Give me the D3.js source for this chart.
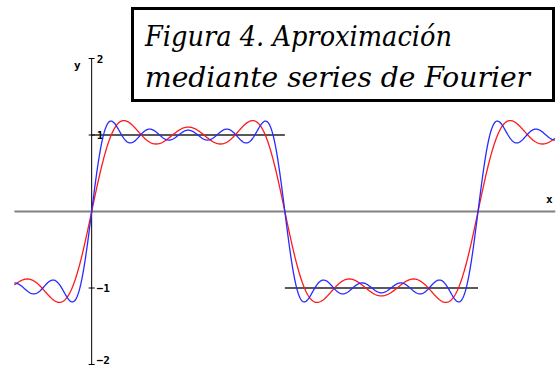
<!DOCTYPE html>
<html>
<head>
<meta charset="utf-8">
<script src="https://cdn.jsdelivr.net/npm/d3@7"></script>
<style>
  body { margin: 0; background: #fff; }
  svg { display: block; }
  .tick-label { font-family: "DejaVu Sans Mono", monospace; font-weight: bold; font-size: 11px; }
  .title { font-family: "DejaVu Serif", "Liberation Serif", serif; font-style: italic; font-size: 28px; }
</style>
</head>
<body>
<svg id="chart" width="556" height="368"></svg>
<script>
var PI = Math.PI;

// Fourier terms of the square wave (odd harmonics, amplitude 4/(n*pi))
var redHarmonics = [1, 3, 5];
var redAmplitudes = [1.2732, 0.4244, 0.2546];
var blueHarmonics = [1, 3, 5, 7, 9];
var blueAmplitudes = [1.2732, 0.4244, 0.2546, 0.1819, 0.1415];

// the square wave being approximated
var stepStart = [0, PI];
var stepEnd = [PI, 2 * PI];
var stepLevel = [1, -1];

var yTicks = [2, 1, -1, -2];
var yTickLabels = ["2", "1", "\u22121", "\u22122"];
var xDomain = [-0.4 * PI, 2.4 * PI];
var titleLines = ["Figura 4. Aproximación", "mediante series de Fourier"];
var titleWidths = [307, 385];

var svg = d3.select("#chart");

var x = d3.scaleLinear().domain(xDomain).range([14.4, 555.3]);
var y = d3.scaleLinear().domain([-2, 2]).range([364.5, 58.5]);

// x axis (grey)
svg.append("line")
    .attr("x1", x(xDomain[0])).attr("x2", x(xDomain[1]))
    .attr("y1", y(0)).attr("y2", y(0))
    .attr("stroke", "#808080")
    .attr("stroke-width", 2);

// y axis
svg.append("line")
    .attr("x1", x(0)).attr("x2", x(0))
    .attr("y1", y(2)).attr("y2", y(-2))
    .attr("stroke", "#000")
    .attr("stroke-width", 1);

svg.selectAll(".ytick")
    .data(yTicks)
    .enter().append("line")
    .attr("class", "ytick")
    .attr("x1", x(0) - 3).attr("x2", x(0) + 3)
    .attr("y1", function (d) { return y(d); })
    .attr("y2", function (d) { return y(d); })
    .attr("stroke", "#000");

svg.selectAll(".tick-label")
    .data(yTicks)
    .enter().append("text")
    .attr("class", "tick-label")
    .attr("x", x(0) + 5)
    .attr("y", function (d) { return Math.min(y(d) + 4, 364); })
    .text(function (d, i) { return yTickLabels[i]; });

svg.append("text").attr("class", "tick-label")
    .attr("x", 74).attr("y", y(2) + 10).text("y");
svg.append("text").attr("class", "tick-label")
    .attr("x", 546).attr("y", y(0) - 9).text("x");

// target square wave
svg.selectAll(".step")
    .data(stepLevel)
    .enter().append("line")
    .attr("class", "step")
    .attr("x1", function (d, i) { return x(stepStart[i]); })
    .attr("x2", function (d, i) { return x(stepEnd[i]); })
    .attr("y1", function (d) { return y(d); })
    .attr("y2", function (d) { return y(d); })
    .attr("stroke", "#222")
    .attr("stroke-width", 1.5);

function partialSum(harmonics, amps) {
    return d3.range(xDomain[0], xDomain[1] + 0.001, 0.01).map(function (t) {
        var s = 0;
        harmonics.forEach(function (n, k) { s += amps[k] * Math.sin(n * t); });
        return [t, s];
    });
}

var line = d3.line()
    .x(function (d) { return x(d[0]); })
    .y(function (d) { return y(d[1]); });

svg.append("path")
    .datum(partialSum(redHarmonics, redAmplitudes))
    .attr("d", line)
    .attr("fill", "none")
    .attr("stroke", "#ff1a1a")
    .attr("stroke-width", 1.3);

svg.append("path")
    .datum(partialSum(blueHarmonics, blueAmplitudes))
    .attr("d", line)
    .attr("fill", "none")
    .attr("stroke", "#2a2aff")
    .attr("stroke-width", 1.3);

// title box
svg.append("rect")
    .attr("x", 132.5).attr("y", 8.5)
    .attr("width", 421).attr("height", 92)
    .attr("fill", "#fff")
    .attr("stroke", "#000")
    .attr("stroke-width", 3);

svg.selectAll(".title")
    .data(titleLines)
    .enter().append("text")
    .attr("class", "title")
    .attr("x", 145)
    .attr("y", function (d, i) { return 46 + i * 41; })
    .attr("textLength", function (d, i) { return titleWidths[i]; })
    .attr("lengthAdjust", "spacingAndGlyphs")
    .text(function (d) { return d; });
</script>
</body>
</html>
